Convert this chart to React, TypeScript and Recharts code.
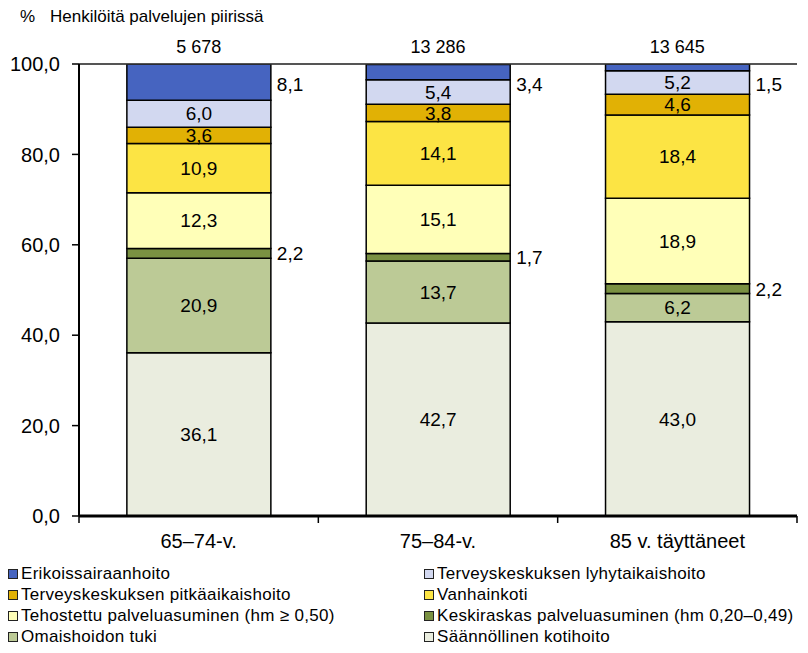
import React from 'react';
import {
  BarChart,
  Bar,
  XAxis,
  YAxis,
  CartesianGrid,
  LabelList,
} from 'recharts';

// Ikäryhmät ja henkilömäärät
const categories = ['65–74-v.', '75–84-v.', '85 v. täyttäneet'];
const counts = ['5 678', '13 286', '13 645'];
const yTicks = [0, 20, 40, 60, 80, 100];

// Sarjat alhaalta ylös (%)
const saannollinen = [36.1, 42.7, 43.0];
const omaishoito = [20.9, 13.7, 6.2];
const keskiraskas = [2.2, 1.7, 2.2];
const tehostettu = [12.3, 15.1, 18.9];
const vanhainkoti = [10.9, 14.1, 18.4];
const tkPitka = [3.6, 3.8, 4.6];
const tkLyhyt = [6.0, 5.4, 5.2];
const erikois = [8.1, 3.4, 1.5];

const series = [
  { key: 'saannollinen', name: 'Säännöllinen kotihoito', values: saannollinen, color: '#EAEDDF', outside: false },
  { key: 'omaishoito', name: 'Omaishoidon tuki', values: omaishoito, color: '#BCCA96', outside: false },
  { key: 'keskiraskas', name: 'Keskiraskas palveluasuminen (hm 0,20–0,49)', values: keskiraskas, color: '#7A9142', outside: true },
  { key: 'tehostettu', name: 'Tehostettu palveluasuminen (hm ≥ 0,50)', values: tehostettu, color: '#FFFFB8', outside: false },
  { key: 'vanhainkoti', name: 'Vanhainkoti', values: vanhainkoti, color: '#FCE444', outside: false },
  { key: 'tkPitka', name: 'Terveyskeskuksen pitkäaikaishoito', values: tkPitka, color: '#E1B105', outside: false },
  { key: 'tkLyhyt', name: 'Terveyskeskuksen lyhytaikaishoito', values: tkLyhyt, color: '#D2D8F0', outside: false },
  { key: 'erikois', name: 'Erikoissairaanhoito', values: erikois, color: '#4664C0', outside: true },
];

// legendan järjestys (rivi kerrallaan, kaksi saraketta)
const legendOrder = ['erikois', 'tkLyhyt', 'tkPitka', 'vanhainkoti', 'tehostettu', 'keskiraskas', 'omaishoito', 'saannollinen'];

const data = categories.map((name, i) => {
  const row: Record<string, any> = { name, count: counts[i] };
  series.forEach((s) => { row[s.key] = s.values[i]; });
  return row;
});

const FONT = '"Liberation Sans", Arial, sans-serif';
const W = 808;
const H = 560;
const M = { top: 0, right: 11, left: 0, bottom: 0 };
const Y_AXIS_W = 79;
const BAND = (W - M.left - M.right - Y_AXIS_W) / categories.length;

const fmt = (v: any) => Number(v).toFixed(1).replace('.', ',');

const BottomTick = (props: any) => {
  const { x, y, payload, index } = props;
  const half = BAND / 2;
  return (
    <g>
      <line x1={x - half} x2={x - half} y1={y} y2={y + 7} stroke="#000" strokeWidth={1.5} />
      {index === categories.length - 1 && (
        <line x1={x + half} x2={x + half} y1={y} y2={y + 7} stroke="#000" strokeWidth={1.5} />
      )}
      <text x={x} y={y + 32} textAnchor="middle" fontSize={20} fontFamily={FONT} fill="#000">
        {payload.value}
      </text>
    </g>
  );
};

const OutsideLabel = (top: boolean) => (props: any) => {
  const { x, y, width, height, value } = props;
  const ty = top ? Number(y) + 22 : Number(y) + Number(height) / 2 + 2;
  return (
    <text x={Number(x) + Number(width) + 6} y={ty} dominantBaseline="middle" fontSize={19} fontFamily={FONT} fill="#000">
      {fmt(value)}
    </text>
  );
};

const App: React.FC = () => {
  return (
    <div style={{ position: 'absolute', left: 0, top: 0, width: W, height: 653, background: '#fff', fontFamily: FONT, color: '#000' }}>
      <div style={{ position: 'absolute', left: 20, top: 7, fontSize: 17 }}>%</div>
      <div style={{ position: 'absolute', left: 50, top: 7, fontSize: 17 }}>Henkilöitä palvelujen piirissä</div>
      <div style={{ position: 'absolute', left: 0, top: 0 }}>
        <BarChart width={W} height={H} data={data} margin={M} barCategoryGap="20%">
          <CartesianGrid vertical={false} stroke="#A6A6A6" strokeWidth={1.5} />
          <XAxis
            dataKey="name"
            xAxisId="bottom"
            height={44}
            axisLine={{ stroke: '#000', strokeWidth: 3 }}
            tickLine={false}
            tickSize={0}
            tickMargin={0}
            tick={<BottomTick />}
            interval={0}
          />
          <XAxis
            dataKey="count"
            xAxisId="top"
            orientation="top"
            height={64}
            axisLine={{ stroke: '#333', strokeWidth: 1.5 }}
            tickLine={false}
            tickSize={0}
            tickMargin={11}
            tick={{ fontSize: 18, fontFamily: FONT, fill: '#000' }}
            interval={0}
          />
          <YAxis
            yAxisId="left"
            width={Y_AXIS_W}
            domain={[0, 100]}
            ticks={yTicks}
            allowDataOverflow
            tickFormatter={fmt}
            axisLine={{ stroke: '#000', strokeWidth: 2 }}
            tickLine={{ stroke: '#000', strokeWidth: 1.5 }}
            tickSize={7}
            tickMargin={12}
            tick={{ fontSize: 20, fontFamily: FONT, fill: '#000' }}
          />
          <YAxis
            yAxisId="right"
            orientation="right"
            width={0}
            domain={[0, 100]}
            tick={false}
            tickLine={false}
            axisLine={{ stroke: '#333', strokeWidth: 1.5 }}
          />
          {series.map((s) => (
            <Bar
              key={s.key}
              dataKey={s.key}
              name={s.name}
              stackId="a"
              xAxisId="bottom"
              yAxisId="left"
              fill={s.color}
              stroke="#000"
              strokeWidth={1.5}
              isAnimationActive={false}
            >
              {s.outside ? (
                <LabelList dataKey={s.key} content={OutsideLabel(s.key === 'erikois')} />
              ) : (
                <LabelList
                  dataKey={s.key}
                  position="center"
                  formatter={fmt}
                  style={{ fontSize: 19, fontFamily: FONT, fill: '#000' }}
                />
              )}
            </Bar>
          ))}
        </BarChart>
      </div>
      <div style={{ position: 'absolute', left: 8, top: 565, width: 800, display: 'grid', gridTemplateColumns: '416px 384px', rowGap: 3, fontSize: 17, letterSpacing: 0.3 }}>
        {legendOrder.map((k) => {
          const s = series.find((x) => x.key === k)!;
          return (
            <div key={k} style={{ display: 'flex', alignItems: 'center', height: 18, whiteSpace: 'nowrap' }}>
              <span style={{ display: 'inline-block', flexShrink: 0, width: 8, height: 8, background: s.color, border: '1px solid #222', marginRight: 3 }} />
              <span>{s.name}</span>
            </div>
          );
        })}
      </div>
    </div>
  );
};

export default App;
